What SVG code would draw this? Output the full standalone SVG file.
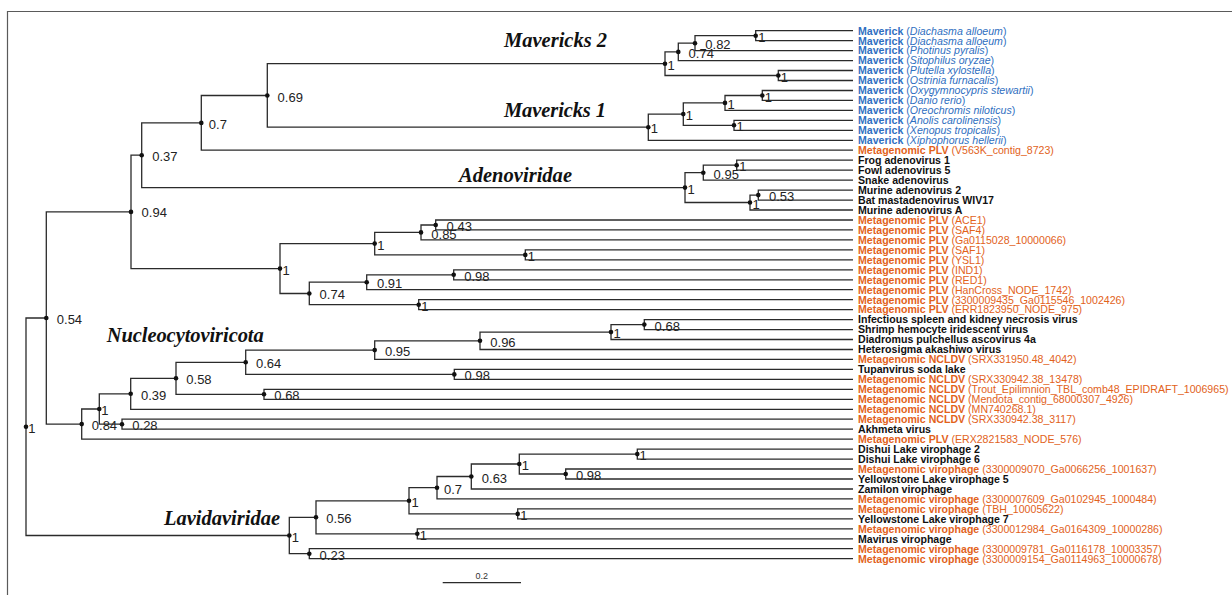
<svg xmlns="http://www.w3.org/2000/svg" width="1232" height="595" viewBox="0 0 1232 595">
<style>
.frame{fill:none;stroke:#5a5a5a;stroke-width:1.2}
.br{fill:none;stroke:#2b2b2b;stroke-width:1.3}
.dot{fill:#111}
.sup{font-family:"Liberation Sans",Arial,sans-serif;font-size:13px;fill:#222}
.clade{font-family:"Liberation Serif","Times New Roman",serif;font-size:20.5px;font-weight:bold;font-style:italic;fill:#111}
.lf{font-family:"Liberation Sans",Arial,sans-serif;font-size:10.6px}
.b{fill:#2f6fc1}
.o{fill:#e2621b}
.k{fill:#111;font-weight:bold}
.bd{font-weight:bold}
.it{font-style:italic}
.scale{font-family:"Liberation Sans",Arial,sans-serif;font-size:9px;fill:#333}
</style>
<rect width="1232" height="595" fill="#fff"/>
<path class="frame" d="M7.5 595 V11.5 H1232"/>

<g id="connectors">
<path class="br" d="M853 30.7 H755.7 V40.7 H853"/>
<path class="br" d="M755.7 35.7 H695 V50.6 H853"/>
<path class="br" d="M695 43.2 H678.3 V60.6 H853"/>
<path class="br" d="M853 70.5 H778.3 V80.5 H853"/>
<path class="br" d="M678.3 51.9 H665 V75.5 H778.3"/>
<path class="br" d="M853 90.5 H762.3 V100.4 H853"/>
<path class="br" d="M762.3 95.5 H725 V110.4 H853"/>
<path class="br" d="M853 120.4 H734 V130.3 H853"/>
<path class="br" d="M725 102.9 H683.3 V125.3 H734"/>
<path class="br" d="M683.3 114.1 H648.3 V140.3 H853"/>
<path class="br" d="M665 63.7 H267.3 V127.2 H648.3"/>
<path class="br" d="M267.3 95.5 H201.3 V150.2 H853"/>
<path class="br" d="M853 160.2 H736.7 V170.2 H853"/>
<path class="br" d="M736.7 165.2 H703.3 V180.1 H853"/>
<path class="br" d="M853 190.1 H758.3 V200.1 H853"/>
<path class="br" d="M758.3 195.1 H750 V210 H853"/>
<path class="br" d="M703.3 172.7 H685 V202.5 H750"/>
<path class="br" d="M201.3 122.9 H141.7 V187.6 H685"/>
<path class="br" d="M853 220 H435.7 V229.9 H853"/>
<path class="br" d="M435.7 225 H421 V239.9 H853"/>
<path class="br" d="M853 249.9 H525.3 V259.8 H853"/>
<path class="br" d="M421 232.4 H374.7 V254.9 H525.3"/>
<path class="br" d="M853 269.8 H453.7 V279.8 H853"/>
<path class="br" d="M453.7 274.8 H366.7 V289.7 H853"/>
<path class="br" d="M853 299.7 H418.7 V309.6 H853"/>
<path class="br" d="M366.7 282.2 H309.3 V304.7 H418.7"/>
<path class="br" d="M374.7 243.6 H280 V293.5 H309.3"/>
<path class="br" d="M141.7 155.2 H131 V268.6 H280"/>
<path class="br" d="M853 319.6 H644.3 V329.6 H853"/>
<path class="br" d="M644.3 324.6 H611 V339.5 H853"/>
<path class="br" d="M611 332.1 H480 V349.5 H853"/>
<path class="br" d="M480 340.8 H374.7 V359.4 H853"/>
<path class="br" d="M853 369.4 H454.3 V379.4 H853"/>
<path class="br" d="M374.7 350.1 H245.7 V374.4 H454.3"/>
<path class="br" d="M853 389.3 H264 V399.3 H853"/>
<path class="br" d="M245.7 362.3 H176 V394.3 H264"/>
<path class="br" d="M176 378.3 H130.7 V409.3 H853"/>
<path class="br" d="M853 419.2 H122 V429.2 H853"/>
<path class="br" d="M130.7 393.8 H99.3 V424.2 H122"/>
<path class="br" d="M99.3 409 H81.7 V439.1 H853"/>
<path class="br" d="M131 211.9 H46.3 V424.1 H81.7"/>
<path class="br" d="M853 449.1 H637.3 V459.1 H853"/>
<path class="br" d="M853 469 H565.7 V479 H853"/>
<path class="br" d="M637.3 454.1 H519.3 V474 H565.7"/>
<path class="br" d="M519.3 464 H471.3 V489 H853"/>
<path class="br" d="M471.3 476.5 H437 V498.9 H853"/>
<path class="br" d="M853 508.9 H517.7 V518.8 H853"/>
<path class="br" d="M437 487.7 H409 V513.9 H517.7"/>
<path class="br" d="M853 528.8 H417.3 V538.8 H853"/>
<path class="br" d="M409 500.8 H316 V533.8 H417.3"/>
<path class="br" d="M853 548.7 H309.3 V558.7 H853"/>
<path class="br" d="M316 517.3 H289.3 V553.7 H309.3"/>
<path class="br" d="M46.3 318 H26 V535.5 H289.3"/>
</g>

<g id="internal-nodes">
<g id="n-a1"><circle class="dot" cx="755.7" cy="35.7" r="2.3"/><text class="sup" x="758.2" y="41.7">1</text></g>
<g id="n-a2"><circle class="dot" cx="695" cy="43.2" r="2.3"/><text class="sup" x="705.3" y="49.2">0.82</text></g>
<g id="n-a3"><circle class="dot" cx="678.3" cy="51.9" r="2.3"/><text class="sup" x="688.6" y="57.9">0.74</text></g>
<g id="n-a4"><circle class="dot" cx="778.3" cy="75.5" r="2.3"/><text class="sup" x="780.8" y="81.5">1</text></g>
<g id="n-a5"><circle class="dot" cx="665" cy="63.7" r="2.3"/><text class="sup" x="667.5" y="69.7">1</text></g>
<g id="n-b1"><circle class="dot" cx="762.3" cy="95.5" r="2.3"/><text class="sup" x="764.8" y="101.5">1</text></g>
<g id="n-b2"><circle class="dot" cx="725" cy="102.9" r="2.3"/><text class="sup" x="727.5" y="108.9">1</text></g>
<g id="n-b3"><circle class="dot" cx="734" cy="125.3" r="2.3"/><text class="sup" x="736.5" y="131.3">1</text></g>
<g id="n-b4"><circle class="dot" cx="683.3" cy="114.1" r="2.3"/><text class="sup" x="685.8" y="120.1">1</text></g>
<g id="n-b5"><circle class="dot" cx="648.3" cy="127.2" r="2.3"/><text class="sup" x="650.8" y="133.2">1</text></g>
<g id="n-c1"><circle class="dot" cx="267.3" cy="95.5" r="2.3"/><text class="sup" x="277.6" y="101.7">0.69</text></g>
<g id="n-c2"><circle class="dot" cx="201.3" cy="122.9" r="2.3"/><text class="sup" x="208.8" y="128.9">0.7</text></g>
<g id="n-d1"><circle class="dot" cx="736.7" cy="165.2" r="2.3"/><text class="sup" x="739.2" y="171.2">1</text></g>
<g id="n-d2"><circle class="dot" cx="703.3" cy="172.7" r="2.3"/><text class="sup" x="713.6" y="178.7">0.95</text></g>
<g id="n-d3"><circle class="dot" cx="758.3" cy="195.1" r="2.3"/><text class="sup" x="769" y="201.1">0.53</text></g>
<g id="n-d4"><circle class="dot" cx="750" cy="202.5" r="2.3"/><text class="sup" x="752.5" y="208.5">1</text></g>
<g id="n-d5"><circle class="dot" cx="685" cy="187.6" r="2.3"/><text class="sup" x="687.5" y="193.6">1</text></g>
<g id="n-c3"><circle class="dot" cx="141.7" cy="155.2" r="2.3"/><text class="sup" x="152.2" y="161.2">0.37</text></g>
<g id="n-e1"><circle class="dot" cx="435.7" cy="225" r="2.3"/><text class="sup" x="446.6" y="231.4">0.43</text></g>
<g id="n-e2"><circle class="dot" cx="421" cy="232.4" r="2.3"/><text class="sup" x="431.3" y="239">0.85</text></g>
<g id="n-e3"><circle class="dot" cx="525.3" cy="254.9" r="2.3"/><text class="sup" x="527.8" y="260.9">1</text></g>
<g id="n-e4"><circle class="dot" cx="374.7" cy="243.6" r="2.3"/><text class="sup" x="377.2" y="249.6">1</text></g>
<g id="n-e5"><circle class="dot" cx="453.7" cy="274.8" r="2.3"/><text class="sup" x="464.2" y="280.8">0.98</text></g>
<g id="n-e6"><circle class="dot" cx="366.7" cy="282.2" r="2.3"/><text class="sup" x="377" y="288.4">0.91</text></g>
<g id="n-e7"><circle class="dot" cx="418.7" cy="304.7" r="2.3"/><text class="sup" x="421.2" y="310.7">1</text></g>
<g id="n-e8"><circle class="dot" cx="309.3" cy="293.5" r="2.3"/><text class="sup" x="319.6" y="299.3">0.74</text></g>
<g id="n-e9"><circle class="dot" cx="280" cy="268.6" r="2.3"/><text class="sup" x="282.5" y="274.6">1</text></g>
<g id="n-c4"><circle class="dot" cx="131" cy="211.9" r="2.3"/><text class="sup" x="141.6" y="217.4">0.94</text></g>
<g id="n-f1"><circle class="dot" cx="644.3" cy="324.6" r="2.3"/><text class="sup" x="654.6" y="330.6">0.68</text></g>
<g id="n-f2"><circle class="dot" cx="611" cy="332.1" r="2.3"/><text class="sup" x="613.5" y="338.1">1</text></g>
<g id="n-f3"><circle class="dot" cx="480" cy="340.8" r="2.3"/><text class="sup" x="490.3" y="346.8">0.96</text></g>
<g id="n-f4"><circle class="dot" cx="374.7" cy="350.1" r="2.3"/><text class="sup" x="385" y="356.1">0.95</text></g>
<g id="n-f5"><circle class="dot" cx="454.3" cy="374.4" r="2.3"/><text class="sup" x="464.6" y="380.4">0.98</text></g>
<g id="n-f6"><circle class="dot" cx="245.7" cy="362.3" r="2.3"/><text class="sup" x="256" y="368.3">0.64</text></g>
<g id="n-f7"><circle class="dot" cx="264" cy="394.3" r="2.3"/><text class="sup" x="274.3" y="400.3">0.68</text></g>
<g id="n-f8"><circle class="dot" cx="176" cy="378.3" r="2.3"/><text class="sup" x="186.3" y="384.3">0.58</text></g>
<g id="n-f9"><circle class="dot" cx="130.7" cy="393.8" r="2.3"/><text class="sup" x="141" y="399.8">0.39</text></g>
<g id="n-f10"><circle class="dot" cx="122" cy="424.2" r="2.3"/><text class="sup" x="132.3" y="430">0.28</text></g>
<g id="n-f11"><circle class="dot" cx="99.3" cy="409" r="2.3"/><text class="sup" x="101.3" y="415">1</text></g>
<g id="n-f12"><circle class="dot" cx="81.7" cy="424.1" r="2.3"/><text class="sup" x="91.8" y="430">0.84</text></g>
<g id="n-c5"><circle class="dot" cx="46.3" cy="318" r="2.3"/><text class="sup" x="56.8" y="323.5">0.54</text></g>
<g id="n-g1"><circle class="dot" cx="637.3" cy="454.1" r="2.3"/><text class="sup" x="639.5" y="460.1">1</text></g>
<g id="n-g2"><circle class="dot" cx="565.7" cy="474" r="2.3"/><text class="sup" x="576" y="480">0.98</text></g>
<g id="n-g3"><circle class="dot" cx="519.3" cy="464" r="2.3"/><text class="sup" x="521.8" y="470">1</text></g>
<g id="n-g4"><circle class="dot" cx="471.3" cy="476.5" r="2.3"/><text class="sup" x="481.8" y="482.5">0.63</text></g>
<g id="n-g5"><circle class="dot" cx="437" cy="487.7" r="2.3"/><text class="sup" x="444" y="493.7">0.7</text></g>
<g id="n-g6"><circle class="dot" cx="517.7" cy="513.9" r="2.3"/><text class="sup" x="520.2" y="519.9">1</text></g>
<g id="n-g7"><circle class="dot" cx="409" cy="500.8" r="2.3"/><text class="sup" x="411.5" y="506.8">1</text></g>
<g id="n-g8"><circle class="dot" cx="417.3" cy="533.8" r="2.3"/><text class="sup" x="419.8" y="539.8">1</text></g>
<g id="n-g9"><circle class="dot" cx="316" cy="517.3" r="2.3"/><text class="sup" x="326.3" y="523.3">0.56</text></g>
<g id="n-g10"><circle class="dot" cx="309.3" cy="553.7" r="2.3"/><text class="sup" x="319.6" y="559.7">0.23</text></g>
<g id="n-g11"><circle class="dot" cx="289.3" cy="535.5" r="2.3"/><text class="sup" x="291.8" y="541.5">1</text></g>
<g id="n-root"><circle class="dot" cx="26" cy="426.7" r="2.3"/><text class="sup" x="28.3" y="432.7">1</text></g>
</g>

<g id="clade-labels">
<text class="clade" x="504" y="46.7" textLength="103">Mavericks 2</text>
<text class="clade" x="504" y="117.3" textLength="102">Mavericks 1</text>
<text class="clade" x="459" y="181.7" textLength="113">Adenoviridae</text>
<text class="clade" x="106.7" y="342.3" textLength="157">Nucleocytoviricota</text>
<text class="clade" x="164" y="525" textLength="116">Lavidaviridae</text>
</g>

<g id="leaves">
<g id="leaf-1"><text class="lf b" x="858" y="34.5"><tspan class="bd">Maverick</tspan> (<tspan class="it">Diachasma alloeum</tspan>)</text></g>
<g id="leaf-2"><text class="lf b" x="858" y="44.5"><tspan class="bd">Maverick</tspan> (<tspan class="it">Diachasma alloeum</tspan>)</text></g>
<g id="leaf-3"><text class="lf b" x="858" y="54.4"><tspan class="bd">Maverick</tspan> (<tspan class="it">Photinus pyralis</tspan>)</text></g>
<g id="leaf-4"><text class="lf b" x="858" y="64.4"><tspan class="bd">Maverick</tspan> (<tspan class="it">Sitophilus oryzae</tspan>)</text></g>
<g id="leaf-5"><text class="lf b" x="858" y="74.4"><tspan class="bd">Maverick</tspan> (<tspan class="it">Plutella xylostella</tspan>)</text></g>
<g id="leaf-6"><text class="lf b" x="858" y="84.3"><tspan class="bd">Maverick</tspan> (<tspan class="it">Ostrinia furnacalis</tspan>)</text></g>
<g id="leaf-7"><text class="lf b" x="858" y="94.3"><tspan class="bd">Maverick</tspan> (<tspan class="it">Oxygymnocypris stewartii</tspan>)</text></g>
<g id="leaf-8"><text class="lf b" x="858" y="104.2"><tspan class="bd">Maverick</tspan> (<tspan class="it">Danio rerio</tspan>)</text></g>
<g id="leaf-9"><text class="lf b" x="858" y="114.2"><tspan class="bd">Maverick</tspan> (<tspan class="it">Oreochromis niloticus</tspan>)</text></g>
<g id="leaf-10"><text class="lf b" x="858" y="124.2"><tspan class="bd">Maverick</tspan> (<tspan class="it">Anolis carolinensis</tspan>)</text></g>
<g id="leaf-11"><text class="lf b" x="858" y="134.1"><tspan class="bd">Maverick</tspan> (<tspan class="it">Xenopus tropicalis</tspan>)</text></g>
<g id="leaf-12"><text class="lf b" x="858" y="144.1"><tspan class="bd">Maverick</tspan> (<tspan class="it">Xiphophorus hellerii</tspan>)</text></g>
<g id="leaf-13"><text class="lf o" x="858" y="154"><tspan class="bd">Metagenomic PLV</tspan> (V563K_contig_8723)</text></g>
<g id="leaf-14"><text class="lf k" x="858" y="164">Frog adenovirus 1</text></g>
<g id="leaf-15"><text class="lf k" x="858" y="174">Fowl adenovirus 5</text></g>
<g id="leaf-16"><text class="lf k" x="858" y="183.9">Snake adenovirus</text></g>
<g id="leaf-17"><text class="lf k" x="858" y="193.9">Murine adenovirus 2</text></g>
<g id="leaf-18"><text class="lf k" x="858" y="203.9">Bat mastadenovirus WIV17</text></g>
<g id="leaf-19"><text class="lf k" x="858" y="213.8">Murine adenovirus A</text></g>
<g id="leaf-20"><text class="lf o" x="858" y="223.8"><tspan class="bd">Metagenomic PLV</tspan> (ACE1)</text></g>
<g id="leaf-21"><text class="lf o" x="858" y="233.7"><tspan class="bd">Metagenomic PLV</tspan> (SAF4)</text></g>
<g id="leaf-22"><text class="lf o" x="858" y="243.7"><tspan class="bd">Metagenomic PLV</tspan> (Ga0115028_10000066)</text></g>
<g id="leaf-23"><text class="lf o" x="858" y="253.7"><tspan class="bd">Metagenomic PLV</tspan> (SAF1)</text></g>
<g id="leaf-24"><text class="lf o" x="858" y="263.6"><tspan class="bd">Metagenomic PLV</tspan> (YSL1)</text></g>
<g id="leaf-25"><text class="lf o" x="858" y="273.6"><tspan class="bd">Metagenomic PLV</tspan> (IND1)</text></g>
<g id="leaf-26"><text class="lf o" x="858" y="283.6"><tspan class="bd">Metagenomic PLV</tspan> (RED1)</text></g>
<g id="leaf-27"><text class="lf o" x="858" y="293.5"><tspan class="bd">Metagenomic PLV</tspan> (HanCross_NODE_1742)</text></g>
<g id="leaf-28"><text class="lf o" x="858" y="303.5"><tspan class="bd">Metagenomic PLV</tspan> (3300009435_Ga0115546_1002426)</text></g>
<g id="leaf-29"><text class="lf o" x="858" y="313.4"><tspan class="bd">Metagenomic PLV</tspan> (ERR1823950_NODE_975)</text></g>
<g id="leaf-30"><text class="lf k" x="858" y="323.4">Infectious spleen and kidney necrosis virus</text></g>
<g id="leaf-31"><text class="lf k" x="858" y="333.4">Shrimp hemocyte iridescent virus</text></g>
<g id="leaf-32"><text class="lf k" x="858" y="343.3">Diadromus pulchellus ascovirus 4a</text></g>
<g id="leaf-33"><text class="lf k" x="858" y="353.3">Heterosigma akashiwo virus</text></g>
<g id="leaf-34"><text class="lf o" x="858" y="363.2"><tspan class="bd">Metagenomic NCLDV</tspan> (SRX331950.48_4042)</text></g>
<g id="leaf-35"><text class="lf k" x="858" y="373.2">Tupanvirus soda lake</text></g>
<g id="leaf-36"><text class="lf o" x="858" y="383.2"><tspan class="bd">Metagenomic NCLDV</tspan> (SRX330942.38_13478)</text></g>
<g id="leaf-37"><text class="lf o" x="858" y="393.1"><tspan class="bd">Metagenomic NCLDV</tspan> (Trout_Epilimnion_TBL_comb48_EPIDRAFT_1006965)</text></g>
<g id="leaf-38"><text class="lf o" x="858" y="403.1"><tspan class="bd">Metagenomic NCLDV</tspan> (Mendota_contig_68000307_4926)</text></g>
<g id="leaf-39"><text class="lf o" x="858" y="413.1"><tspan class="bd">Metagenomic NCLDV</tspan> (MN740268.1)</text></g>
<g id="leaf-40"><text class="lf o" x="858" y="423"><tspan class="bd">Metagenomic NCLDV</tspan> (SRX330942.38_3117)</text></g>
<g id="leaf-41"><text class="lf k" x="858" y="433">Akhmeta virus</text></g>
<g id="leaf-42"><text class="lf o" x="858" y="442.9"><tspan class="bd">Metagenomic PLV</tspan> (ERX2821583_NODE_576)</text></g>
<g id="leaf-43"><text class="lf k" x="858" y="452.9">Dishui Lake virophage 2</text></g>
<g id="leaf-44"><text class="lf k" x="858" y="462.9">Dishui Lake virophage 6</text></g>
<g id="leaf-45"><text class="lf o" x="858" y="472.8"><tspan class="bd">Metagenomic virophage</tspan> (3300009070_Ga0066256_1001637)</text></g>
<g id="leaf-46"><text class="lf k" x="858" y="482.8">Yellowstone Lake virophage 5</text></g>
<g id="leaf-47"><text class="lf k" x="858" y="492.8">Zamilon virophage</text></g>
<g id="leaf-48"><text class="lf o" x="858" y="502.7"><tspan class="bd">Metagenomic virophage</tspan> (3300007609_Ga0102945_1000484)</text></g>
<g id="leaf-49"><text class="lf o" x="858" y="512.7"><tspan class="bd">Metagenomic virophage</tspan> (TBH_10005622)</text></g>
<g id="leaf-50"><text class="lf k" x="858" y="522.6">Yellowstone Lake virophage 7</text></g>
<g id="leaf-51"><text class="lf o" x="858" y="532.6"><tspan class="bd">Metagenomic virophage</tspan> (3300012984_Ga0164309_10000286)</text></g>
<g id="leaf-52"><text class="lf k" x="858" y="542.6">Mavirus virophage</text></g>
<g id="leaf-53"><text class="lf o" x="858" y="552.5"><tspan class="bd">Metagenomic virophage</tspan> (3300009781_Ga0116178_10003357)</text></g>
<g id="leaf-54"><text class="lf o" x="858" y="562.5"><tspan class="bd">Metagenomic virophage</tspan> (3300009154_Ga0114963_10000678)</text></g>
</g>

<g id="scale-bar">
<path class="br" d="M442.7 582.7 H521"/>
<text class="scale" x="481.8" y="579.3" text-anchor="middle">0.2</text>
</g>
</svg>
